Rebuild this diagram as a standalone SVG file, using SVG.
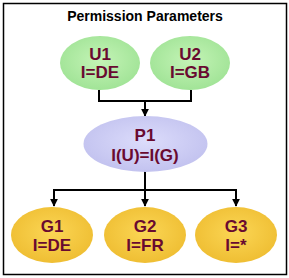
<svg xmlns="http://www.w3.org/2000/svg" width="289" height="278" viewBox="0 0 289 278">
<defs>
<radialGradient id="gGreen" cx="50%" cy="45%" r="60%">
<stop offset="0" stop-color="#c4f4b6"/><stop offset="1" stop-color="#9ee294"/>
</radialGradient>
<radialGradient id="gPurple" cx="50%" cy="45%" r="60%">
<stop offset="0" stop-color="#dcdcfb"/><stop offset="1" stop-color="#c0c0ee"/>
</radialGradient>
<radialGradient id="gYellow" cx="50%" cy="45%" r="60%">
<stop offset="0" stop-color="#fbd655"/><stop offset="1" stop-color="#eebc30"/>
</radialGradient>
<marker id="arr" viewBox="0 0 10 10" refX="9" refY="5" markerWidth="4" markerHeight="4" orient="auto">
<path d="M0,0 L10,5 L0,10 z" fill="#000"/>
</marker>
<style>
.lbl{font-family:"Liberation Sans",Arial,sans-serif;font-weight:bold;font-size:17px;fill:#690a30;text-anchor:middle}
.title{font-family:"Liberation Sans",Arial,sans-serif;font-weight:bold;font-size:14px;fill:#000;text-anchor:middle}
.con{stroke:#000;stroke-width:2;fill:none}
</style>
</defs>
<rect x="0" y="0" width="289" height="278" fill="#fff"/>
<rect x="3.5" y="3.5" width="283" height="271" fill="none" stroke="#000" stroke-width="1.5"/>
<text class="title" x="145" y="21">Permission Parameters</text>
<g id="connectors">
<polyline class="con" points="99,90 99,101 191,101 191,90"/>
<line class="con" x1="145" y1="101" x2="145" y2="116" marker-end="url(#arr)"/>
<line class="con" x1="145" y1="171" x2="145" y2="190"/>
<line class="con" x1="54" y1="190" x2="236" y2="190"/>
<line class="con" x1="54" y1="189" x2="54" y2="206" marker-end="url(#arr)"/>
<line class="con" x1="145" y1="190" x2="145" y2="206" marker-end="url(#arr)"/>
<line class="con" x1="236" y1="189" x2="236" y2="206" marker-end="url(#arr)"/>
</g>
<g id="U1">
<ellipse cx="100" cy="63" rx="40" ry="27" fill="url(#gGreen)"/>
<text class="lbl" x="100" y="60">U1</text>
<text class="lbl" x="100" y="78">I=DE</text>
</g>
<g id="U2">
<ellipse cx="190" cy="63" rx="40" ry="27" fill="url(#gGreen)"/>
<text class="lbl" x="190" y="60">U2</text>
<text class="lbl" x="190" y="78">I=GB</text>
</g>
<g id="P1">
<ellipse cx="145.5" cy="144" rx="62" ry="28" fill="url(#gPurple)"/>
<text class="lbl" x="145" y="141">P1</text>
<text class="lbl" x="145" y="161">I(U)=I(G)</text>
</g>
<g id="G1">
<ellipse cx="52" cy="235" rx="41" ry="28" fill="url(#gYellow)"/>
<text class="lbl" x="52" y="232">G1</text>
<text class="lbl" x="52" y="251">I=DE</text>
</g>
<g id="G2">
<ellipse cx="145" cy="235" rx="41" ry="28" fill="url(#gYellow)"/>
<text class="lbl" x="145" y="232">G2</text>
<text class="lbl" x="145" y="251">I=FR</text>
</g>
<g id="G3">
<ellipse cx="236" cy="235" rx="41" ry="28" fill="url(#gYellow)"/>
<text class="lbl" x="236" y="232">G3</text>
<text class="lbl" x="236" y="251">I=*</text>
</g>
</svg>
